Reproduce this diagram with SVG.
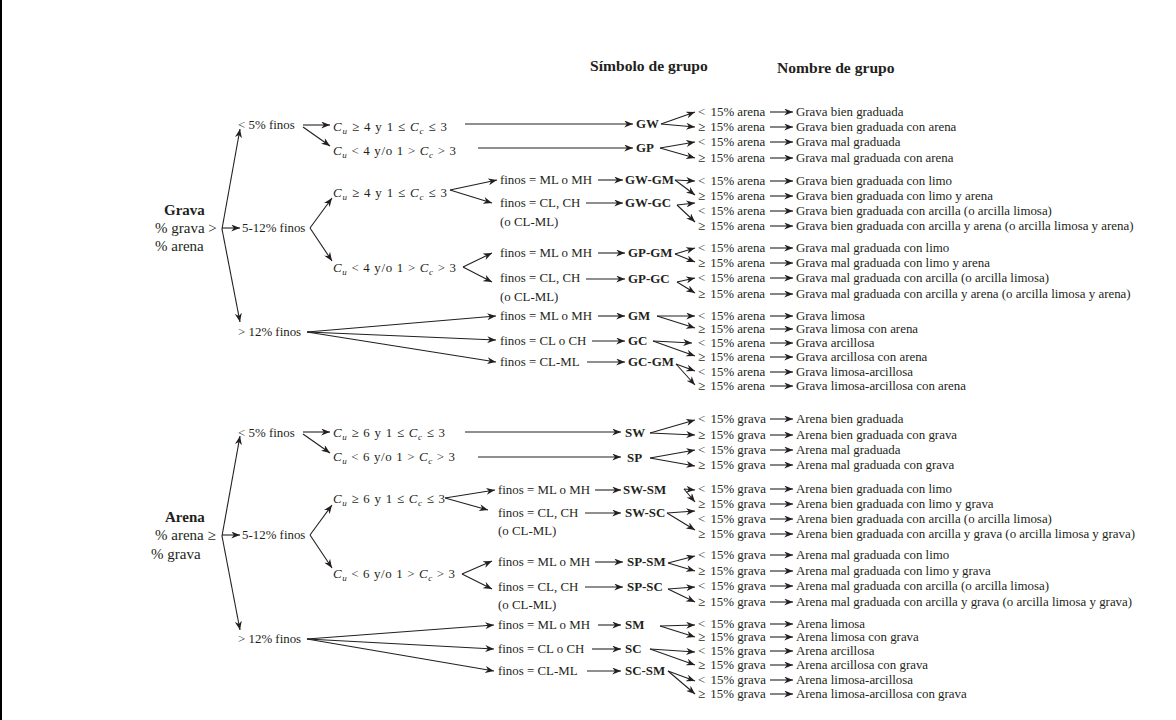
<svg xmlns="http://www.w3.org/2000/svg" width="1176" height="720" viewBox="0 0 1176 720">
<style>
.t{font-family:"Liberation Serif","Times New Roman",serif;font-size:12.9px;fill:#231f20}
.b{font-weight:bold}
.h{font-family:"Liberation Serif","Times New Roman",serif;font-size:15.6px;font-weight:bold;fill:#231f20}
.big{font-size:15px}
.i{font-style:italic}
.s{font-size:9px}
.c path{stroke:#231f20;stroke-width:1.1;fill:none;marker-end:url(#ah)}
</style>
<defs>
<marker id="ah" viewBox="0 0 10 8" refX="10" refY="4" markerWidth="9" markerHeight="7" markerUnits="userSpaceOnUse" orient="auto">
<path d="M0,0 L10,4 L0,8 L3,4 z" fill="#231f20"/>
</marker>
</defs>
<rect x="0" y="0" width="2" height="720" fill="#000"/>
<g id="headers">
<text class="h" x="590" y="71">Símbolo de grupo</text>
<text class="h" x="777" y="73">Nombre de grupo</text>
</g>

<!-- ============ GRAVA ============ -->
<g id="grava-section">
<g id="grava"><text class="t b big" x="164" y="215">Grava</text><text class="t big" x="155" y="233">% grava &gt;</text><text class="t big" x="155" y="251">% arena</text></g>
<g id="g-lt5"><text class="t" x="238" y="129">&lt; 5% finos</text></g>
<g id="g-5-12"><text class="t" x="242" y="232">5-12% finos</text></g>
<g id="g-gt12"><text class="t" x="238" y="336">&gt; 12% finos</text></g>
<g id="g-cu1"><text class="t" x="333" y="131" textLength="114" lengthAdjust="spacing"><tspan class="i">C</tspan><tspan class="i s" dy="3">u</tspan><tspan dy="-3"> ≥ 4 y 1 ≤ </tspan><tspan class="i">C</tspan><tspan class="i s" dy="3">c</tspan><tspan dy="-3"> ≤ 3</tspan></text></g>
<g id="g-cu2"><text class="t" x="333" y="155" textLength="123" lengthAdjust="spacing"><tspan class="i">C</tspan><tspan class="i s" dy="3">u</tspan><tspan dy="-3"> &lt; 4 y/o 1 &gt; </tspan><tspan class="i">C</tspan><tspan class="i s" dy="3">c</tspan><tspan dy="-3"> &gt; 3</tspan></text></g>
<g id="g-cu3"><text class="t" x="333" y="197" textLength="114" lengthAdjust="spacing"><tspan class="i">C</tspan><tspan class="i s" dy="3">u</tspan><tspan dy="-3"> ≥ 4 y 1 ≤ </tspan><tspan class="i">C</tspan><tspan class="i s" dy="3">c</tspan><tspan dy="-3"> ≤ 3</tspan></text></g>
<g id="g-cu4"><text class="t" x="333" y="272" textLength="123" lengthAdjust="spacing"><tspan class="i">C</tspan><tspan class="i s" dy="3">u</tspan><tspan dy="-3"> &lt; 4 y/o 1 &gt; </tspan><tspan class="i">C</tspan><tspan class="i s" dy="3">c</tspan><tspan dy="-3"> &gt; 3</tspan></text></g>
<g id="g-f1"><text class="t" x="500" y="184">finos = ML o MH</text></g>
<g id="g-f2"><text class="t" x="500" y="207">finos = CL, CH</text><text class="t" x="500" y="226">(o CL-ML)</text></g>
<g id="g-f3"><text class="t" x="500" y="257">finos = ML o MH</text></g>
<g id="g-f4"><text class="t" x="500" y="282">finos = CL, CH</text><text class="t" x="500" y="301">(o CL-ML)</text></g>
<g id="g-f5"><text class="t" x="500" y="320">finos = ML o MH</text></g>
<g id="g-f6"><text class="t" x="500" y="345">finos = CL o CH</text></g>
<g id="g-f7"><text class="t" x="500" y="366">finos = CL-ML</text></g>
<g id="sym-GW"><text class="t b" x="636" y="128">GW</text></g>
<g id="sym-GP"><text class="t b" x="636" y="152">GP</text></g>
<g id="sym-GW-GM"><text class="t b" x="625" y="184">GW-GM</text></g>
<g id="sym-GW-GC"><text class="t b" x="625" y="207">GW-GC</text></g>
<g id="sym-GP-GM"><text class="t b" x="628" y="257">GP-GM</text></g>
<g id="sym-GP-GC"><text class="t b" x="628" y="283">GP-GC</text></g>
<g id="sym-GM"><text class="t b" x="628" y="320">GM</text></g>
<g id="sym-GC"><text class="t b" x="628" y="345">GC</text></g>
<g id="sym-GC-GM"><text class="t b" x="628" y="366">GC-GM</text></g>
<g id="g-pct">
<text class="t" x="698" y="116">&lt;<tspan dx="2"> 15% arena</tspan></text>
<text class="t" x="698" y="131">≥<tspan dx="2"> 15% arena</tspan></text>
<text class="t" x="698" y="146">&lt;<tspan dx="2"> 15% arena</tspan></text>
<text class="t" x="698" y="162">≥<tspan dx="2"> 15% arena</tspan></text>
<text class="t" x="698" y="185">&lt;<tspan dx="2"> 15% arena</tspan></text>
<text class="t" x="698" y="200">≥<tspan dx="2"> 15% arena</tspan></text>
<text class="t" x="698" y="215">&lt;<tspan dx="2"> 15% arena</tspan></text>
<text class="t" x="698" y="230">≥<tspan dx="2"> 15% arena</tspan></text>
<text class="t" x="698" y="252">&lt;<tspan dx="2"> 15% arena</tspan></text>
<text class="t" x="698" y="267">≥<tspan dx="2"> 15% arena</tspan></text>
<text class="t" x="698" y="282">&lt;<tspan dx="2"> 15% arena</tspan></text>
<text class="t" x="698" y="298">≥<tspan dx="2"> 15% arena</tspan></text>
<text class="t" x="698" y="320">&lt;<tspan dx="2"> 15% arena</tspan></text>
<text class="t" x="698" y="333">≥<tspan dx="2"> 15% arena</tspan></text>
<text class="t" x="698" y="347">&lt;<tspan dx="2"> 15% arena</tspan></text>
<text class="t" x="698" y="361">≥<tspan dx="2"> 15% arena</tspan></text>
<text class="t" x="698" y="376">&lt;<tspan dx="2"> 15% arena</tspan></text>
<text class="t" x="698" y="390">≥<tspan dx="2"> 15% arena</tspan></text>
</g>
<g id="g-names">
<text class="t" x="796" y="116">Grava bien graduada</text>
<text class="t" x="796" y="131">Grava bien graduada con arena</text>
<text class="t" x="796" y="146">Grava mal graduada</text>
<text class="t" x="796" y="162">Grava mal graduada con arena</text>
<text class="t" x="796" y="185">Grava bien graduada con limo</text>
<text class="t" x="796" y="200">Grava bien graduada con limo y arena</text>
<text class="t" x="796" y="215">Grava bien graduada con arcilla (o arcilla limosa)</text>
<text class="t" x="796" y="230">Grava bien graduada con arcilla y arena (o arcilla limosa y arena)</text>
<text class="t" x="796" y="252">Grava mal graduada con limo</text>
<text class="t" x="796" y="267">Grava mal graduada con limo y arena</text>
<text class="t" x="796" y="282">Grava mal graduada con arcilla (o arcilla limosa)</text>
<text class="t" x="796" y="298">Grava mal graduada con arcilla y arena (o arcilla limosa y arena)</text>
<text class="t" x="796" y="320">Grava limosa</text>
<text class="t" x="796" y="333">Grava limosa con arena</text>
<text class="t" x="796" y="347">Grava arcillosa</text>
<text class="t" x="796" y="361">Grava arcillosa con arena</text>
<text class="t" x="796" y="376">Grava limosa-arcillosa</text>
<text class="t" x="796" y="390">Grava limosa-arcillosa con arena</text>
</g>
<g class="c" id="g-connectors">
<path d="M222,229 L240,129"/>
<path d="M222,228 L240,228"/>
<path d="M222,229 L240,322"/>
<path d="M303,125 L330,125"/>
<path d="M303,127 L330,146"/>
<path d="M310,228 L332,198"/>
<path d="M310,228 L332,261"/>
<path d="M465,124 L633,124"/>
<path d="M478,148 L633,148"/>
<path d="M450,190 L497,180"/>
<path d="M450,190 L492,203"/>
<path d="M463,267 L492,253"/>
<path d="M463,267 L492,282"/>
<path d="M307,332 L496,316"/>
<path d="M307,332 L496,340"/>
<path d="M307,332 L496,362"/>
<path d="M598,180 L623,180"/>
<path d="M586,203 L623,203"/>
<path d="M598,253 L625,253"/>
<path d="M586,279 L625,279"/>
<path d="M598,316 L625,316"/>
<path d="M592,341 L625,341"/>
<path d="M587,362 L625,362"/>
<path d="M661,124 L695,112"/>
<path d="M661,124 L695,127"/>
<path d="M660,148 L695,142"/>
<path d="M660,148 L695,158"/>
<path d="M675,180 L695,181"/>
<path d="M675,180 L695,195"/>
<path d="M677,205 L695,203"/>
<path d="M677,205 L695,222"/>
<path d="M675,254 L695,248"/>
<path d="M675,254 L695,262"/>
<path d="M677,282 L695,278"/>
<path d="M677,282 L695,293"/>
<path d="M657,316 L695,316"/>
<path d="M657,316 L695,328"/>
<path d="M653,341 L692,343"/>
<path d="M653,341 L695,356"/>
<path d="M676,364 L695,371"/>
<path d="M676,364 L695,385"/>
<path d="M770,112 L793,112"/>
<path d="M770,127 L793,127"/>
<path d="M770,142 L793,142"/>
<path d="M770,158 L793,158"/>
<path d="M770,181 L793,181"/>
<path d="M770,196 L793,196"/>
<path d="M770,211 L793,211"/>
<path d="M770,226 L793,226"/>
<path d="M770,248 L793,248"/>
<path d="M770,263 L793,263"/>
<path d="M770,278 L793,278"/>
<path d="M770,294 L793,294"/>
<path d="M770,316 L793,316"/>
<path d="M770,329 L793,329"/>
<path d="M770,343 L793,343"/>
<path d="M770,357 L793,357"/>
<path d="M770,372 L793,372"/>
<path d="M770,386 L793,386"/>
</g>
</g>

<!-- ============ ARENA ============ -->
<g id="arena-section" transform="translate(0,308)">
<g id="arena"><text class="t b big" x="165" y="214">Arena</text><text class="t big" x="155" y="232">% arena ≥</text><text class="t big" x="151" y="251">% grava</text></g>
<g id="a-lt5"><text class="t" x="238" y="129">&lt; 5% finos</text></g>
<g id="a-5-12"><text class="t" x="242" y="231">5-12% finos</text></g>
<g id="a-gt12"><text class="t" x="238" y="335">&gt; 12% finos</text></g>
<g id="a-cu1"><text class="t" x="333" y="129" textLength="112" lengthAdjust="spacing"><tspan class="i">C</tspan><tspan class="i s" dy="3">u</tspan><tspan dy="-3"> ≥ 6 y 1 ≤ </tspan><tspan class="i">C</tspan><tspan class="i s" dy="3">c</tspan><tspan dy="-3"> ≤ 3</tspan></text></g>
<g id="a-cu2"><text class="t" x="333" y="153" textLength="122" lengthAdjust="spacing"><tspan class="i">C</tspan><tspan class="i s" dy="3">u</tspan><tspan dy="-3"> &lt; 6 y/o 1 &gt; </tspan><tspan class="i">C</tspan><tspan class="i s" dy="3">c</tspan><tspan dy="-3"> &gt; 3</tspan></text></g>
<g id="a-cu3"><text class="t" x="333" y="195" textLength="112" lengthAdjust="spacing"><tspan class="i">C</tspan><tspan class="i s" dy="3">u</tspan><tspan dy="-3"> ≥ 6 y 1 ≤ </tspan><tspan class="i">C</tspan><tspan class="i s" dy="3">c</tspan><tspan dy="-3"> ≤ 3</tspan></text></g>
<g id="a-cu4"><text class="t" x="333" y="270" textLength="122" lengthAdjust="spacing"><tspan class="i">C</tspan><tspan class="i s" dy="3">u</tspan><tspan dy="-3"> &lt; 6 y/o 1 &gt; </tspan><tspan class="i">C</tspan><tspan class="i s" dy="3">c</tspan><tspan dy="-3"> &gt; 3</tspan></text></g>
<g id="a-f1"><text class="t" x="498" y="186">finos = ML o MH</text></g>
<g id="a-f2"><text class="t" x="498" y="209">finos = CL, CH</text><text class="t" x="498" y="227">(o CL-ML)</text></g>
<g id="a-f3"><text class="t" x="498" y="258">finos = ML o MH</text></g>
<g id="a-f4"><text class="t" x="498" y="283">finos = CL, CH</text><text class="t" x="498" y="301">(o CL-ML)</text></g>
<g id="a-f5"><text class="t" x="498" y="321">finos = ML o MH</text></g>
<g id="a-f6"><text class="t" x="498" y="345">finos = CL o CH</text></g>
<g id="a-f7"><text class="t" x="498" y="367">finos = CL-ML</text></g>
<g id="sym-SW"><text class="t b" x="625" y="129">SW</text></g>
<g id="sym-SP"><text class="t b" x="627" y="154">SP</text></g>
<g id="sym-SW-SM"><text class="t b" x="623" y="186">SW-SM</text></g>
<g id="sym-SW-SC"><text class="t b" x="625" y="209">SW-SC</text></g>
<g id="sym-SP-SM"><text class="t b" x="627" y="258">SP-SM</text></g>
<g id="sym-SP-SC"><text class="t b" x="627" y="283">SP-SC</text></g>
<g id="sym-SM"><text class="t b" x="625" y="321">SM</text></g>
<g id="sym-SC"><text class="t b" x="625" y="345">SC</text></g>
<g id="sym-SC-SM"><text class="t b" x="625" y="367">SC-SM</text></g>
<g id="a-pct">
<text class="t" x="698" y="115">&lt;<tspan dx="2"> 15% grava</tspan></text>
<text class="t" x="698" y="131">≥<tspan dx="2"> 15% grava</tspan></text>
<text class="t" x="698" y="146">&lt;<tspan dx="2"> 15% grava</tspan></text>
<text class="t" x="698" y="161">≥<tspan dx="2"> 15% grava</tspan></text>
<text class="t" x="698" y="185">&lt;<tspan dx="2"> 15% grava</tspan></text>
<text class="t" x="698" y="200">≥<tspan dx="2"> 15% grava</tspan></text>
<text class="t" x="698" y="215">&lt;<tspan dx="2"> 15% grava</tspan></text>
<text class="t" x="698" y="230">≥<tspan dx="2"> 15% grava</tspan></text>
<text class="t" x="698" y="251">&lt;<tspan dx="2"> 15% grava</tspan></text>
<text class="t" x="698" y="267">≥<tspan dx="2"> 15% grava</tspan></text>
<text class="t" x="698" y="282">&lt;<tspan dx="2"> 15% grava</tspan></text>
<text class="t" x="698" y="298">≥<tspan dx="2"> 15% grava</tspan></text>
<text class="t" x="698" y="320">&lt;<tspan dx="2"> 15% grava</tspan></text>
<text class="t" x="698" y="333">≥<tspan dx="2"> 15% grava</tspan></text>
<text class="t" x="698" y="347">&lt;<tspan dx="2"> 15% grava</tspan></text>
<text class="t" x="698" y="361">≥<tspan dx="2"> 15% grava</tspan></text>
<text class="t" x="698" y="376">&lt;<tspan dx="2"> 15% grava</tspan></text>
<text class="t" x="698" y="390">≥<tspan dx="2"> 15% grava</tspan></text>
</g>
<g id="a-names">
<text class="t" x="796" y="115">Arena bien graduada</text>
<text class="t" x="796" y="131">Arena bien graduada con grava</text>
<text class="t" x="796" y="146">Arena mal graduada</text>
<text class="t" x="796" y="161">Arena mal graduada con grava</text>
<text class="t" x="796" y="185">Arena bien graduada con limo</text>
<text class="t" x="796" y="200">Arena bien graduada con limo y grava</text>
<text class="t" x="796" y="215">Arena bien graduada con arcilla (o arcilla limosa)</text>
<text class="t" x="796" y="230">Arena bien graduada con arcilla y grava (o arcilla limosa y grava)</text>
<text class="t" x="796" y="251">Arena mal graduada con limo</text>
<text class="t" x="796" y="267">Arena mal graduada con limo y grava</text>
<text class="t" x="796" y="282">Arena mal graduada con arcilla (o arcilla limosa)</text>
<text class="t" x="796" y="298">Arena mal graduada con arcilla y grava (o arcilla limosa y grava)</text>
<text class="t" x="796" y="320">Arena limosa</text>
<text class="t" x="796" y="333">Arena limosa con grava</text>
<text class="t" x="796" y="347">Arena arcillosa</text>
<text class="t" x="796" y="361">Arena arcillosa con grava</text>
<text class="t" x="796" y="376">Arena limosa-arcillosa</text>
<text class="t" x="796" y="390">Arena limosa-arcillosa con grava</text>
</g>
<g class="c" id="a-connectors">
<path d="M222,228 L240,128"/>
<path d="M222,227 L240,227"/>
<path d="M222,228 L240,322"/>
<path d="M303,124 L330,124"/>
<path d="M303,126 L330,145"/>
<path d="M310,227 L332,197"/>
<path d="M310,227 L332,260"/>
<path d="M465,124 L621,124"/>
<path d="M478,149 L621,149"/>
<path d="M445,190 L495,182"/>
<path d="M445,190 L488,202"/>
<path d="M462,266 L492,253"/>
<path d="M462,266 L492,281"/>
<path d="M307,331 L494,317"/>
<path d="M307,331 L494,341"/>
<path d="M307,331 L494,363"/>
<path d="M595,182 L621,182"/>
<path d="M585,205 L621,205"/>
<path d="M595,254 L623,254"/>
<path d="M585,279 L623,279"/>
<path d="M598,317 L621,317"/>
<path d="M592,341 L621,341"/>
<path d="M587,363 L621,363"/>
<path d="M650,125 L695,112"/>
<path d="M650,125 L695,127"/>
<path d="M650,150 L695,142"/>
<path d="M650,150 L695,158"/>
<path d="M684,181 L695,182"/>
<path d="M684,181 L695,194"/>
<path d="M667,205 L695,203"/>
<path d="M667,205 L695,222"/>
<path d="M668,255 L695,248"/>
<path d="M668,255 L695,263"/>
<path d="M668,281 L695,279"/>
<path d="M668,281 L695,294"/>
<path d="M660,318 L695,317"/>
<path d="M660,318 L695,329"/>
<path d="M650,341 L695,344"/>
<path d="M650,341 L695,357"/>
<path d="M668,363 L695,373"/>
<path d="M668,363 L695,386"/>
<path d="M770,111 L793,111"/>
<path d="M770,127 L793,127"/>
<path d="M770,142 L793,142"/>
<path d="M770,157 L793,157"/>
<path d="M770,181 L793,181"/>
<path d="M770,196 L793,196"/>
<path d="M770,211 L793,211"/>
<path d="M770,226 L793,226"/>
<path d="M770,247 L793,247"/>
<path d="M770,263 L793,263"/>
<path d="M770,278 L793,278"/>
<path d="M770,294 L793,294"/>
<path d="M770,316 L793,316"/>
<path d="M770,329 L793,329"/>
<path d="M770,343 L793,343"/>
<path d="M770,357 L793,357"/>
<path d="M770,372 L793,372"/>
<path d="M770,386 L793,386"/>
</g>
</g>
</svg>
